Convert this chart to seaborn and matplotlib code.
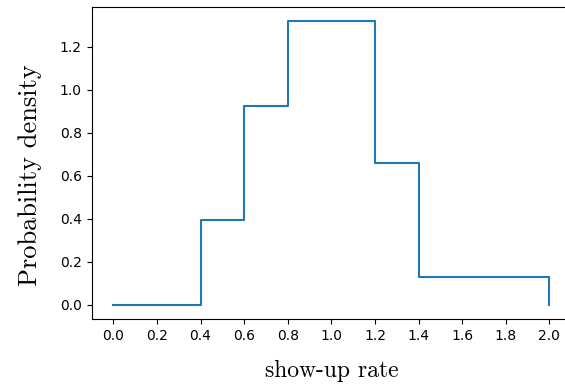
import matplotlib
matplotlib.use("Agg")
import matplotlib.pyplot as plt
import pandas as pd
import seaborn as sns

# Step density: value of each bin, held until the next edge, then drop to 0 at 2.0
rate_points = [0.0, 0.4, 0.6, 0.8, 1.2, 1.4, 2.0, 2.0]
density_points = [0.0, 0.397, 0.925, 1.32, 0.66, 0.132, 0.132, 0.0]
x_ticks = [0.0, 0.2, 0.4, 0.6, 0.8, 1.0, 1.2, 1.4, 1.6, 1.8, 2.0]

LINE_COLOR = "#1f77b4"

df = pd.DataFrame({"rate": rate_points, "density": density_points})

fig = plt.figure(figsize=(5.65, 3.85), dpi=100)
# right edge runs a little past the picture, like the cropped original
ax = fig.add_axes([0.162, 0.171, 0.849, 0.811])

sns.lineplot(
    data=df, x="rate", y="density", ax=ax,
    sort=False, estimator=None, drawstyle="steps-post",
    color=LINE_COLOR, linewidth=1.5,
)

ax.set_xticks(x_ticks)
ax.set_xticklabels([f"{t:.1f}" for t in x_ticks])
ax.tick_params(labelsize=10)

ax.set_xlabel("show-up rate", fontdict={"family": "cmr10", "size": 17}, labelpad=12)
ax.set_ylabel("Probability density", fontdict={"family": "cmr10", "size": 19})
ax.yaxis.set_label_coords(-0.103, 0.462)

fig.savefig("out.png", dpi=100)
